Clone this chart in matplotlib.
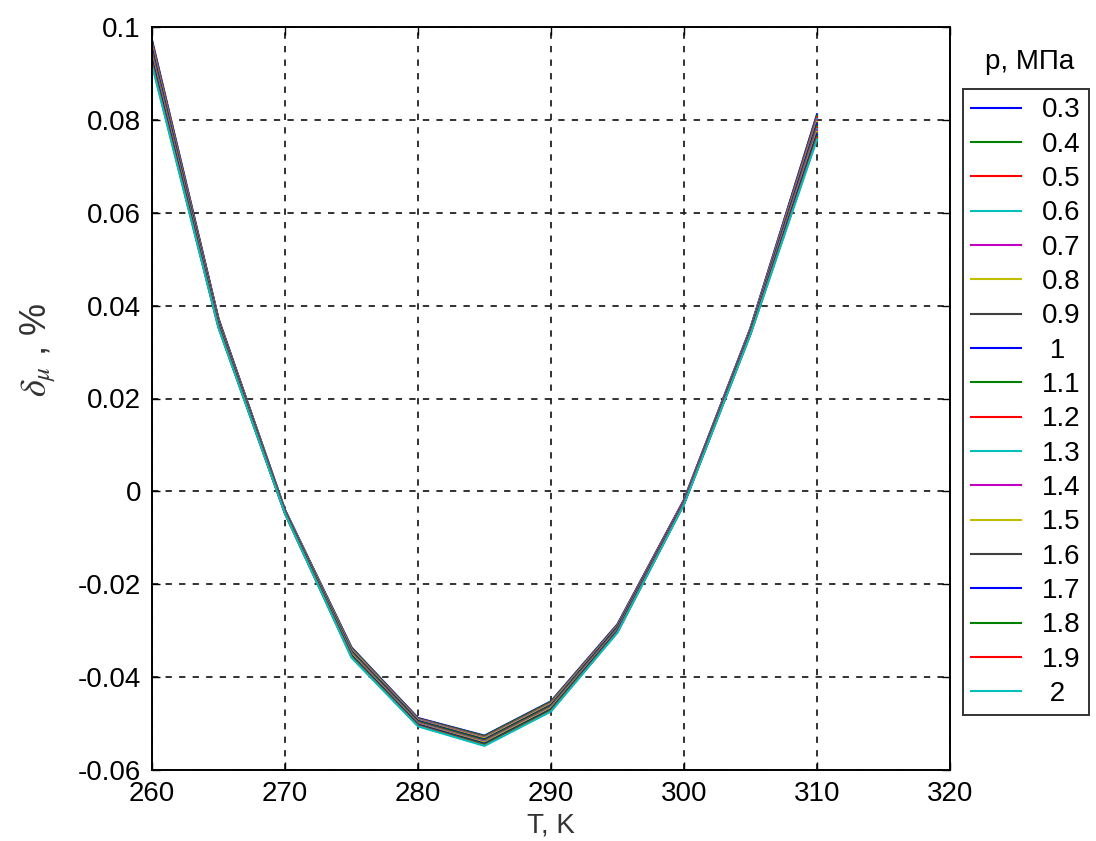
import matplotlib
matplotlib.use("Agg")
import matplotlib.pyplot as plt

plt.rcParams['font.family'] = ['Liberation Sans', 'DejaVu Sans']
plt.rcParams['mathtext.fontset'] = 'stix'

# Температура, К
T = [260, 265, 270, 275, 280, 285, 290, 295, 300, 305, 310]

# Давление, МПа
p_labels = ['0.3', '0.4', '0.5', '0.6', '0.7', '0.8', '0.9', ' 1', '1.1',
            '1.2', '1.3', '1.4', '1.5', '1.6', '1.7', '1.8', '1.9', ' 2']

# Относительное отклонение, % (по одной строке на каждое давление)
d_03 = [0.0972, 0.0372, -0.0040, -0.0336, -0.0488, -0.0526, -0.0452, -0.0286, -0.0018, 0.0352, 0.0812]
d_04 = [0.0969, 0.0371, -0.0040, -0.0337, -0.0489, -0.0527, -0.0453, -0.0287, -0.0019, 0.0351, 0.0809]
d_05 = [0.0966, 0.0370, -0.0041, -0.0339, -0.0490, -0.0529, -0.0455, -0.0288, -0.0019, 0.0350, 0.0806]
d_06 = [0.0962, 0.0368, -0.0041, -0.0340, -0.0491, -0.0530, -0.0456, -0.0289, -0.0020, 0.0350, 0.0802]
d_07 = [0.0959, 0.0367, -0.0042, -0.0341, -0.0492, -0.0531, -0.0457, -0.0290, -0.0020, 0.0349, 0.0799]
d_08 = [0.0956, 0.0366, -0.0042, -0.0342, -0.0493, -0.0532, -0.0458, -0.0291, -0.0021, 0.0348, 0.0796]
d_09 = [0.0953, 0.0365, -0.0043, -0.0344, -0.0494, -0.0534, -0.0460, -0.0292, -0.0022, 0.0347, 0.0793]
d_10 = [0.0950, 0.0364, -0.0043, -0.0345, -0.0495, -0.0535, -0.0461, -0.0293, -0.0022, 0.0346, 0.0790]
d_11 = [0.0947, 0.0363, -0.0044, -0.0346, -0.0496, -0.0536, -0.0462, -0.0294, -0.0023, 0.0345, 0.0787]
d_12 = [0.0943, 0.0361, -0.0044, -0.0348, -0.0498, -0.0538, -0.0464, -0.0296, -0.0023, 0.0345, 0.0783]
d_13 = [0.0940, 0.0360, -0.0045, -0.0349, -0.0499, -0.0539, -0.0465, -0.0297, -0.0024, 0.0344, 0.0780]
d_14 = [0.0937, 0.0359, -0.0045, -0.0350, -0.0500, -0.0540, -0.0466, -0.0298, -0.0024, 0.0343, 0.0777]
d_15 = [0.0934, 0.0358, -0.0046, -0.0351, -0.0501, -0.0541, -0.0467, -0.0299, -0.0025, 0.0342, 0.0774]
d_16 = [0.0931, 0.0357, -0.0046, -0.0353, -0.0502, -0.0543, -0.0469, -0.0300, -0.0026, 0.0341, 0.0771]
d_17 = [0.0927, 0.0355, -0.0047, -0.0354, -0.0503, -0.0544, -0.0470, -0.0301, -0.0026, 0.0341, 0.0767]
d_18 = [0.0924, 0.0354, -0.0047, -0.0355, -0.0504, -0.0545, -0.0471, -0.0302, -0.0027, 0.0340, 0.0764]
d_19 = [0.0921, 0.0353, -0.0048, -0.0357, -0.0505, -0.0547, -0.0473, -0.0303, -0.0027, 0.0339, 0.0761]
d_20 = [0.0918, 0.0352, -0.0048, -0.0358, -0.0506, -0.0548, -0.0474, -0.0304, -0.0028, 0.0338, 0.0758]

series = [d_03, d_04, d_05, d_06, d_07, d_08, d_09, d_10, d_11,
          d_12, d_13, d_14, d_15, d_16, d_17, d_18, d_19, d_20]

x_ticks = [260, 270, 280, 290, 300, 310, 320]
y_ticks = [-0.06, -0.04, -0.02, 0, 0.02, 0.04, 0.06, 0.08, 0.1]
y_ticklabels = ['-0.06', '-0.04', '-0.02', '0', '0.02', '0.04', '0.06', '0.08', '0.1']

# цвета по умолчанию, как в MATLAB
colors = ['#0000ff', '#008000', '#ff0000', '#00bfbf', '#bf00bf', '#bfbf00', '#404040']

fig = plt.figure(figsize=(10.96, 8.41), dpi=100)
ax = fig.add_axes([152 / 1096, 1 - 770 / 841, (950 - 152) / 1096, (770 - 27) / 841])

lines = []
for i, d in enumerate(series):
    ln, = ax.plot(T, d, color=colors[i % len(colors)], lw=1.5)
    lines.append(ln)

ax.set_xlim(260, 320)
ax.set_ylim(-0.06, 0.1)
ax.set_xticks(x_ticks)
ax.set_xticklabels([str(v) for v in x_ticks])
ax.set_yticks(y_ticks)
ax.set_yticklabels(y_ticklabels)
ax.tick_params(direction='in', top=True, right=True, length=6, width=1,
               labelsize=20, pad=8)
ax.grid(True, color='#222222', linestyle=(0, (3.5, 4)), lw=1.3)
for s in ax.spines.values():
    s.set_linewidth(1.4)

ax.set_xlabel('T, K', fontsize=20, color='#333333', labelpad=4)
ax.set_ylabel(r'$\delta_\mu$ , %', fontsize=26, color='#333333')
ax.yaxis.set_label_coords(-0.118, 0.565)

fig.text(1030 / 1096, 1 - 62 / 841, 'p, МПа', fontsize=20, ha='center', va='center')
leg = fig.legend(lines, p_labels, loc='upper left',
                 bbox_to_anchor=(963 / 1096, 1 - 89 / 841),
                 fontsize=20, frameon=True, fancybox=False,
                 handlelength=1.8, handletextpad=0.75, labelspacing=0.3,
                 borderpad=0.3, borderaxespad=0)
leg.get_frame().set_edgecolor('black')
leg.get_frame().set_linewidth(1.4)

fig.savefig('out.png', dpi=100)
plt.close(fig)
